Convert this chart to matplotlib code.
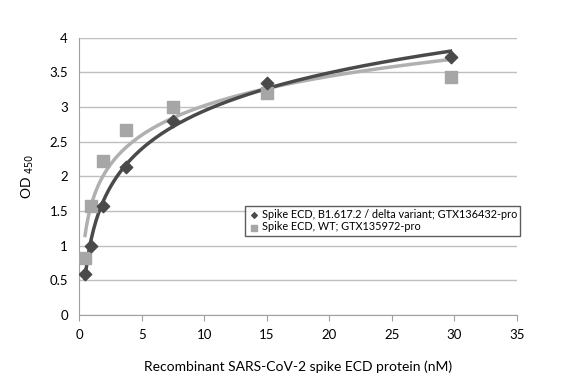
import numpy as np
import matplotlib
matplotlib.use('Agg')
import matplotlib.pyplot as plt

plt.rcParams['font.family'] = ['Lato', 'DejaVu Sans']

# concentration (nM)
conc = [0.47, 0.94, 1.875, 3.75, 7.5, 15, 29.7]
delta_od = [0.60, 1.00, 1.57, 2.14, 2.80, 3.35, 3.73]
wt_od = [0.83, 1.58, 2.22, 2.67, 3.00, 3.20, 3.44]

label_delta = 'Spike ECD, B1.617.2 / delta variant; GTX136432-pro'
label_wt = 'Spike ECD, WT; GTX135972-pro'

dark = '#4a4a4a'
light = '#a6a6a6'

fig = plt.figure(figsize=(5.82, 3.82), dpi=100)
ax = fig.add_axes([0.136, 0.175, 0.752, 0.726])

# log trendlines
xs = np.linspace(min(conc), max(conc), 300)
b1, a1 = np.polyfit(np.log(conc), delta_od, 1)
b2, a2 = np.polyfit(np.log(conc), wt_od, 1)
ax.plot(xs, a2 + b2 * np.log(xs), color='#b0b0b0', lw=2.5, zorder=2)
ax.plot(xs, a1 + b1 * np.log(xs), color=dark, lw=2.5, zorder=3)

ax.scatter(conc, wt_od, marker='s', s=70, color=light, zorder=4, label=label_wt)
ax.scatter(conc, delta_od, marker='D', s=40, color=dark, zorder=5, label=label_delta)

ax.set_xlim(0, 35)
ax.set_ylim(0, 4)
ax.set_xticks(range(0, 36, 5))
ax.set_yticks(np.arange(0, 4.01, 0.5))
ax.set_yticklabels(['0', '0.5', '1', '1.5', '2', '2.5', '3', '3.5', '4'])
ax.grid(axis='y', color='#bfbfbf', lw=1)
ax.set_axisbelow(True)
for s in ['top', 'right']:
    ax.spines[s].set_visible(False)
for s in ['left', 'bottom']:
    ax.spines[s].set_color('#a0a0a0')
ax.tick_params(axis='y', length=0, labelsize=9.5, pad=8)
ax.tick_params(axis='x', length=4, color='#a0a0a0', labelsize=9.5, pad=6)

ax.set_xlabel('Recombinant SARS-CoV-2 spike ECD protein (nM)', fontsize=10, labelpad=14)
ax.set_ylabel('OD $_{450}$', fontsize=10, labelpad=10)

handles, labels = ax.get_legend_handles_labels()
leg = ax.legend(handles[::-1], labels[::-1], loc='upper left',
                bbox_to_anchor=(0.38, 0.395), fontsize=7.8, frameon=True,
                fancybox=False, edgecolor='#333333', handletextpad=0.2,
                borderpad=0.3, labelspacing=0.15, handlelength=1,
                markerscale=0.45, borderaxespad=0)
leg.get_frame().set_linewidth(1)

fig.savefig('out.png', dpi=100)
